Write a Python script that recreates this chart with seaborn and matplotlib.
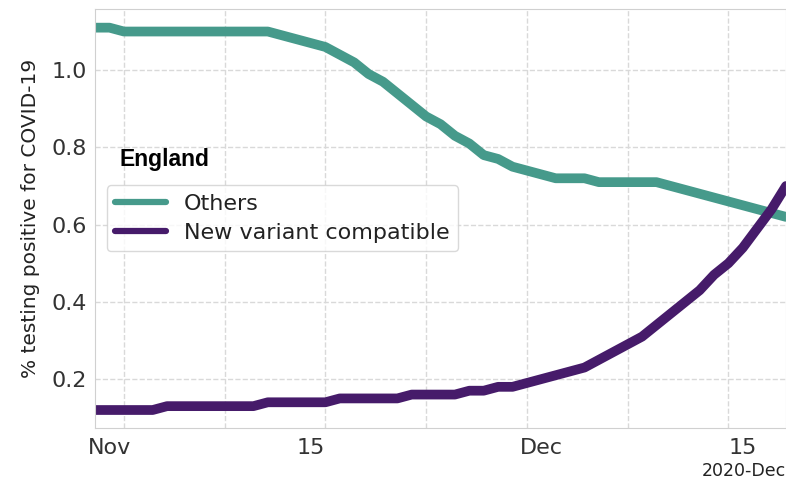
import numpy as np
import pandas as pd
import matplotlib
matplotlib.use("Agg")
import matplotlib.pyplot as plt
import matplotlib.dates as mdates
import seaborn as sns

dates = pd.date_range("2020-10-31", "2020-12-18", freq="D")

others = [1.11, 1.11, 1.10, 1.10, 1.10, 1.10, 1.10, 1.10, 1.10, 1.10,
          1.10, 1.10, 1.10, 1.09, 1.08, 1.07, 1.06, 1.04, 1.02, 0.99,
          0.97, 0.94, 0.91, 0.88, 0.86, 0.83, 0.81, 0.78, 0.77, 0.75,
          0.74, 0.73, 0.72, 0.72, 0.72, 0.71, 0.71, 0.71, 0.71, 0.71,
          0.70, 0.69, 0.68, 0.67, 0.66, 0.65, 0.64, 0.63, 0.62]

new_variant = [0.12, 0.12, 0.12, 0.12, 0.12, 0.13, 0.13, 0.13, 0.13, 0.13,
               0.13, 0.13, 0.14, 0.14, 0.14, 0.14, 0.14, 0.15, 0.15, 0.15,
               0.15, 0.15, 0.16, 0.16, 0.16, 0.16, 0.17, 0.17, 0.18, 0.18,
               0.19, 0.20, 0.21, 0.22, 0.23, 0.25, 0.27, 0.29, 0.31, 0.34,
               0.37, 0.40, 0.43, 0.47, 0.50, 0.54, 0.59, 0.64, 0.70]

series_names = ["Others", "New variant compatible"]
series_colors = ["#469a8b", "#461b6a"]

df = pd.DataFrame({
    "date": list(dates) * 2,
    "value": others + new_variant,
    "series": [series_names[0]] * len(dates) + [series_names[1]] * len(dates),
})

sns.set_style("whitegrid", {"grid.linestyle": "--", "axes.edgecolor": "#d0d0d0"})
plt.rcParams["font.family"] = ["DejaVu Sans"]

fig = plt.figure(figsize=(7.86, 4.80), dpi=100)
ax = fig.add_axes([0.121, 0.108, 0.879, 0.873])

sns.lineplot(data=df, x="date", y="value", hue="series",
             palette=dict(zip(series_names, series_colors)),
             linewidth=7, ax=ax, legend=True)

ax.set_xlim(dates[0], dates[-1])
ax.set_ylim(0.073, 1.158)
ax.set_yticks([0.2, 0.4, 0.6, 0.8, 1.0])

locator = mdates.DayLocator(bymonthday=[1, 15])
ax.xaxis.set_major_locator(locator)
ax.xaxis.set_major_formatter(mdates.ConciseDateFormatter(locator))
ax.xaxis.set_minor_locator(mdates.WeekdayLocator(byweekday=mdates.MO))

ax.grid(False)
ax.grid(which="minor", axis="x", linestyle="--", color="#d9d9d9", linewidth=1)
ax.grid(which="major", axis="y", linestyle="--", color="#d9d9d9", linewidth=1)
ax.tick_params(axis="x", which="major", length=4, color="#cccccc",
               labelsize=16, labelcolor="#333333", pad=3)
ax.tick_params(axis="x", which="minor", length=0)
ax.tick_params(axis="y", length=0, labelsize=16, labelcolor="#333333", pad=6)
ax.xaxis.get_offset_text().set_fontsize(12.5)
ax.xaxis.get_offset_text().set_color("#222222")

ax.set_xlabel("")
ax.set_ylabel("% testing positive for COVID-19", fontsize=14.5, color="#222222",
              labelpad=8)

leg = ax.legend(loc="upper left", bbox_to_anchor=(0.017, 0.58), borderaxespad=0,
                fontsize=16, frameon=True, handlelength=2.3, labelspacing=0.42,
                borderpad=0.38, handletextpad=0.8)
for line in leg.get_lines():
    line.set_linewidth(4.5)
leg.get_frame().set_edgecolor("#d0d0d0")
for t in leg.get_texts():
    t.set_color("#222222")

ax.text(0.036, 0.642, "England", transform=ax.transAxes, fontsize=16.5,
        fontweight="bold", family="Liberation Sans", va="center", ha="left",
        color="black")

for s in ax.spines.values():
    s.set_color("#d0d0d0")

fig.savefig("out.png", dpi=100)
